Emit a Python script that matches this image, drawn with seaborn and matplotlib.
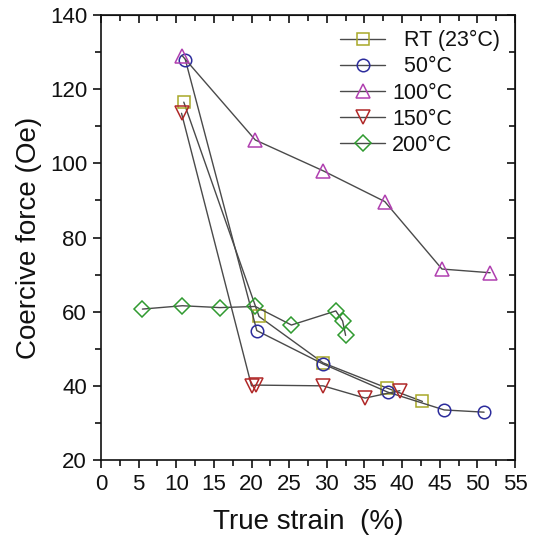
import matplotlib
matplotlib.use("Agg")
import matplotlib.pyplot as plt
import pandas as pd
import seaborn as sns
from matplotlib.ticker import MultipleLocator

sns.set_style("ticks")
plt.rcParams['font.family'] = ['Liberation Sans', 'DejaVu Sans']
plt.rcParams['text.color'] = '#111111'
plt.rcParams['axes.labelcolor'] = '#111111'
plt.rcParams['xtick.color'] = '#111111'
plt.rcParams['ytick.color'] = '#111111'
plt.rcParams['axes.edgecolor'] = '#111111'

# data
rt_x = [11.0, 21.0, 29.5, 38.0, 42.7]
rt_y = [116.5, 58.7, 46.2, 39.4, 35.8]
c50_x = [11.2, 20.7, 29.5, 38.1, 45.6, 50.9]
c50_y = [128.0, 54.9, 45.9, 38.3, 33.5, 32.9]
c100_x = [10.8, 20.5, 29.5, 37.7, 45.3, 51.7]
c100_y = [129.0, 106.3, 98.0, 89.7, 71.5, 70.5]
c150_x = [10.7, 20.0, 20.6, 29.5, 35.1, 39.7]
c150_y = [113.5, 40.0, 40.2, 40.0, 36.7, 38.7]
c200_x = [5.5, 10.8, 15.8, 20.5, 25.3, 31.2, 32.1, 32.5]
c200_y = [60.7, 61.6, 61.1, 61.4, 56.4, 60.2, 57.5, 53.6]

labels = ['  RT (23°C)', '  50°C', '100°C', '150°C', '200°C']
xs = [rt_x, c50_x, c100_x, c150_x, c200_x]
ys = [rt_y, c50_y, c100_y, c150_y, c200_y]
markers = ['s', 'o', '^', 'v', 'D']
colors = ['#a8a828', '#2c2c9c', '#b040b0', '#b02828', '#309a30']
msizes = [8, 9, 10, 10, 8]

fig = plt.figure(figsize=(5.39, 5.44), dpi=100)
ax = fig.add_axes([0.1874, 0.1544, 0.768, 0.818])

for lab, x, y, m, c, s in zip(labels, xs, ys, markers, colors, msizes):
    df = pd.DataFrame({'x': x, 'y': y})
    sns.lineplot(data=df, x='x', y='y', sort=False, estimator=None, ax=ax,
                 color='#4a4a4a', linewidth=1.0, marker=m, markersize=s,
                 markerfacecolor='none', markeredgecolor=c, markeredgewidth=1.1,
                 label=lab)

ax.set_xlim(0, 55)
ax.set_ylim(20, 140)
ax.xaxis.set_major_locator(MultipleLocator(5))
ax.xaxis.set_minor_locator(MultipleLocator(2.5))
ax.yaxis.set_major_locator(MultipleLocator(20))
ax.yaxis.set_minor_locator(MultipleLocator(10))
ax.tick_params(which='both', direction='out', top=False, right=False,
               labelsize=16, width=1.2)
ax.tick_params(which='major', length=6, pad=4)
ax.tick_params(which='minor', length=4)
for sp in ax.spines.values():
    sp.set_linewidth(1.2)
    sp.set_visible(True)

# mirrored inward ticks on top and right
top = ax.secondary_xaxis('top')
top.xaxis.set_major_locator(MultipleLocator(5))
top.xaxis.set_minor_locator(MultipleLocator(2.5))
top.tick_params(which='both', direction='in', labeltop=False, width=1.2)
top.tick_params(which='major', length=6)
top.tick_params(which='minor', length=4)
right = ax.secondary_yaxis('right')
right.yaxis.set_major_locator(MultipleLocator(20))
right.yaxis.set_minor_locator(MultipleLocator(10))
right.tick_params(which='both', direction='in', labelright=False, width=1.2)
right.tick_params(which='major', length=6)
right.tick_params(which='minor', length=4)

ax.set_xlabel('True strain  (%)', fontsize=20, labelpad=10)
ax.set_ylabel('Coercive force (Oe)', fontsize=20, labelpad=6)

ax.legend(loc='upper right', frameon=False, fontsize=15.5, handlelength=2.1,
          handletextpad=0.3, labelspacing=0.24, borderaxespad=0.3)

fig.savefig('out.png', dpi=100)
